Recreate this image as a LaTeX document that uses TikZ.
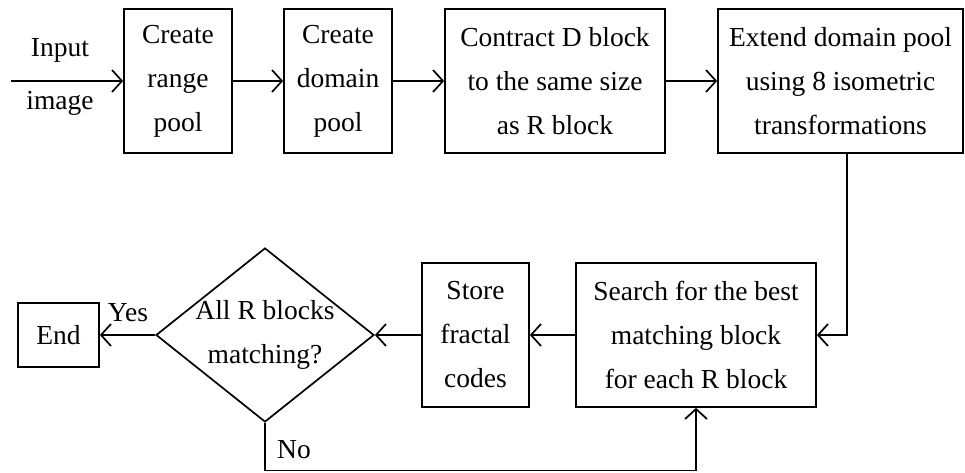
\documentclass[tikz,border=0pt]{standalone}
\usepackage{fontspec}
\setmainfont{Liberation Serif}
\usetikzlibrary{arrows.meta,shapes.geometric}
\begin{document}
\begin{tikzpicture}[x=1pt,y=-1pt,
  every node/.style={font=\fontsize{27.5}{44}\selectfont},
  procbox/.style={draw,line width=1.7pt,align=center,inner sep=0pt},
  decision/.style={draw,diamond,line width=1.7pt,inner sep=0pt},
  flow/.style={line width=1.7pt,-{Straight Barb[length=10pt,width=22pt,line width=1.7pt]}},
  edgelabel/.style={inner sep=0pt}]
\useasboundingbox (0,0) rectangle (965,473);
% top row
\coordinate (start) at (11,81);
\node[procbox,minimum width=108pt,minimum height=144pt] (range) at (178,81) {Create\\range\\pool};
\node[procbox,minimum width=108pt,minimum height=144pt] (domain) at (338,81) {Create\\domain\\pool};
\node[procbox,minimum width=220pt,minimum height=144pt] (contract) at (555,81) {Contract D block\\to the same size\\as R block};
\node[procbox,minimum width=245pt,minimum height=144pt] (extend) at (840.5,81) {Extend domain pool\\using 8 isometric\\transformations};
% bottom row
\node[procbox,minimum width=240pt,minimum height=144pt] (search) at (696,335) {Search for the best\\matching block\\for each R block};
\node[procbox,minimum width=107pt,minimum height=144pt] (store) at (475.5,335) {Store\\fractal\\codes};
\node[decision,minimum width=218pt,minimum height=174pt] (check) at (265,335) {};
\node[align=center,inner sep=0pt] (checktext) at (check.center) {All R blocks\\matching?};
\node[procbox,minimum width=81pt,minimum height=64pt] (end) at (58.5,335) {End};
% labels on the input arrow
\node[edgelabel] (inlabel) at (60,50) {Input};
\node[edgelabel] (imlabel) at (60,103) {image};
% connectors
\draw[flow] (start) -- (range);
\draw[flow] (range) -- (domain);
\draw[flow] (domain) -- (contract);
\draw[flow] (contract) -- (extend);
\draw[flow] (extend.south -| 847,0) |- (search.east);
\draw[flow] (search) -- (store);
\draw[flow] (store) -- (check);
\draw[flow] (check) -- (end);
\node[edgelabel] (yes) at (128,313) {Yes};
\coordinate (nocorner) at (265,470.5);
\draw[flow] (check.south) -- (nocorner) -| (search.south);
\node[edgelabel] (no) at (294,450) {No};
\end{tikzpicture}
\end{document}
